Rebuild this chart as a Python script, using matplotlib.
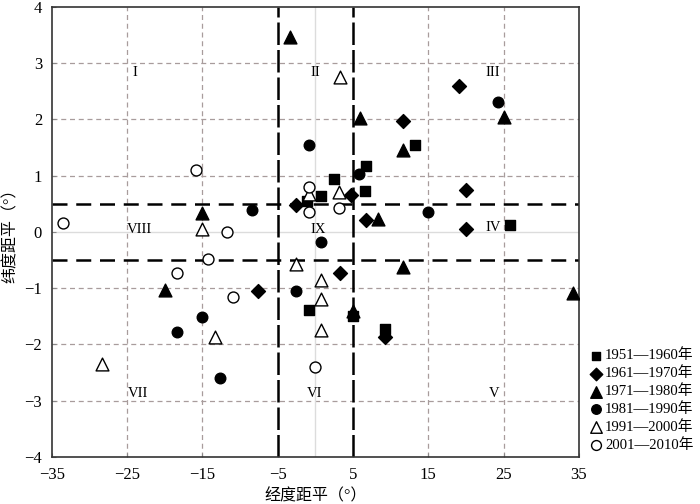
import matplotlib
matplotlib.use("Agg")
import matplotlib.pyplot as plt

plt.rcParams['font.family'] = ['Liberation Serif', 'Noto Sans CJK SC', 'DejaVu Sans']
plt.rcParams['axes.unicode_minus'] = True

# Data: longitude anomaly (x) and latitude anomaly (y) by decade
labels = ['1951—1960年', '1961—1970年', '1971—1980年',
          '1981—1990年', '1991—2000年', '2001—2010年']

x_1951 = [-1.1, 0.75, 2.5, 6.7, 6.6, 13.3, 25.8, -0.9, 5.0, 9.2]
y_1951 = [0.55, 0.63, 0.93, 1.17, 0.72, 1.55, 0.12, -1.39, -1.5, -1.72]

x_1961 = [-2.6, 4.8, 6.7, 11.7, 19.1, 20.0, 20.0, -7.6, 3.3, 9.2]
y_1961 = [0.48, 0.66, 0.21, 1.97, 2.59, 0.75, 0.05, -1.05, -0.73, -1.87]

x_1971 = [-3.3, 5.9, 11.7, 25.1, 8.3, -15.0, -20.0, 11.6, 34.2, 5.0]
y_1971 = [3.46, 2.03, 1.45, 2.04, 0.23, 0.34, -1.04, -0.63, -1.09, -1.41]

x_1981 = [-0.9, 5.75, 24.2, 15.0, -8.4, 0.75, -2.5, -15.0, -18.3, -12.6]
y_1981 = [1.55, 1.03, 2.30, 0.36, 0.39, -0.18, -1.05, -1.52, -1.78, -2.59]

x_1991 = [3.3, -0.8, 3.2, -15.0, -2.5, 0.75, 0.75, 0.75, -13.3, -28.3]
y_1991 = [2.75, 0.67, 0.70, 0.05, -0.57, -0.86, -1.2, -1.74, -1.87, -2.34]

x_2001 = [-15.9, -0.8, -0.8, 3.2, -33.5, -11.7, -14.2, -18.3, -10.9, 0.0]
y_2001 = [1.09, 0.79, 0.35, 0.42, 0.15, 0.0, -0.48, -0.73, -1.16, -2.40]

xticks = [-35, -25, -15, -5, 5, 15, 25, 35]
yticks = [-4, -3, -2, -1, 0, 1, 2, 3, 4]

region_names = ['I', 'II', 'III', 'VIII', 'IX', 'IV', 'VII', 'VI', 'V']
region_x = [-23.9, 0.0, 23.6, -23.3, 0.4, 23.6, -23.5, -0.1, 23.8]
region_y = [2.83, 2.83, 2.83, 0.05, 0.05, 0.08, -2.87, -2.87, -2.87]

fig = plt.figure(figsize=(7, 5.04), dpi=100)
ax = fig.add_axes([0.0739, 0.0933, 0.7531, 0.8934])

ax.set_xlim(-35, 35)
ax.set_ylim(-4, 4)

# background grid
grid_c = '#a89c9c'
for v in [-25, -15, 15, 25]:
    ax.axvline(v, color=grid_c, lw=0.9, ls=(0, (4, 3)), zorder=1)
for v in [-3, -2, -1, 1, 2, 3]:
    ax.axhline(v, color=grid_c, lw=0.9, ls=(0, (4, 3)), zorder=1)
ax.axvline(0, color='#dcdcdc', lw=1, zorder=1)
ax.axhline(0, color='#dcdcdc', lw=1, zorder=1)

# region boundaries
for v in [-5, 5]:
    ax.axvline(v, color='black', lw=1.8, ls=(0, (9, 2)), zorder=2)
for v in [-0.5, 0.5]:
    ax.axhline(v, color='black', lw=1.8, ls=(0, (6, 3.5)), zorder=2)

for name, rx, ry in zip(region_names, region_x, region_y):
    ax.text(rx, ry, name, ha='center', va='center', fontsize=10.5,
            fontstretch='condensed', zorder=3)

k = dict(zorder=5, linewidths=1)
ax.scatter(x_1951, y_1951, marker='s', s=50, c='black', label=labels[0], **k)
ax.scatter(x_1961, y_1961, marker='D', s=50, c='black', label=labels[1], **k)
ax.scatter(x_1971, y_1971, marker='^', s=85, c='black', label=labels[2], **k)
ax.scatter(x_1981, y_1981, marker='o', s=58, c='black', label=labels[3], **k)
ax.scatter(x_1991, y_1991, marker='^', s=85, facecolors='white', edgecolors='black', label=labels[4], **k)
ax.scatter(x_2001, y_2001, marker='o', s=62, facecolors='white', edgecolors='black', label=labels[5], **k)

ax.set_xticks(xticks)
ax.set_yticks(yticks)
ax.tick_params(direction='in', length=3, labelsize=12, pad=7, color='#888888')
for sp in ax.spines.values():
    sp.set_linewidth(1.2)
    sp.set_color('#333333')

ax.set_xlabel('经度距平（°）', fontsize=11.5, labelpad=4)
ax.set_ylabel('纬度距平（°）', fontsize=11.5, labelpad=4)

leg = fig.legend(loc='upper left', bbox_to_anchor=(0.832, 0.32), frameon=False,
                 fontsize=10.6, handletextpad=0.05, labelspacing=0.28,
                 borderaxespad=0, handlelength=1.1, markerscale=0.9)

fig.savefig('out.png', dpi=100)
